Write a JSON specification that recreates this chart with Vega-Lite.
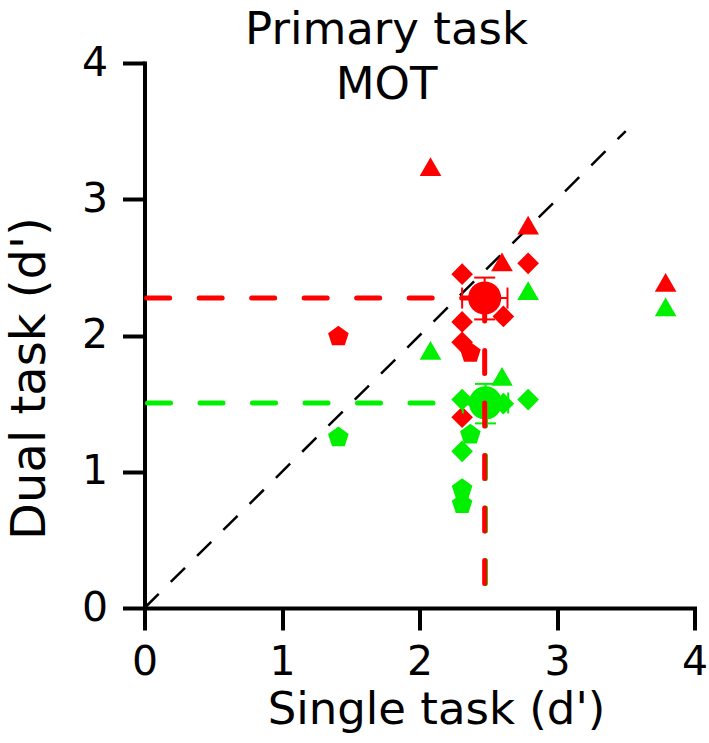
{
  "$schema": "https://vega.github.io/schema/vega-lite/v6.json",
  "width": 550,
  "height": 545,
  "autosize": "none",
  "padding": {"left": 144.5, "top": 63, "right": 14.5, "bottom": 135},
  "background": "white",
  "config": {"view": {"stroke": null}, "font": "DejaVu Sans"},
  "title": {
    "text": ["Primary task", "MOT"],
    "font": "DejaVu Sans",
    "fontSize": 45,
    "fontWeight": "normal",
    "color": "black",
    "anchor": "middle",
    "frame": "group",
    "lineHeight": 55,
    "baseline": "top",
    "offset": -66,
    "dx": -33
  },
  "datasets": {
    "points": [
      {"group": "A", "shape": "triangle", "x": 2.08, "y": 3.24},
      {"group": "A", "shape": "triangle", "x": 2.79, "y": 2.81},
      {"group": "A", "shape": "triangle", "x": 2.60, "y": 2.54},
      {"group": "A", "shape": "triangle", "x": 3.79, "y": 2.39},
      {"group": "A", "shape": "diamond", "x": 2.79, "y": 2.53},
      {"group": "A", "shape": "diamond", "x": 2.31, "y": 2.45},
      {"group": "A", "shape": "diamond", "x": 2.61, "y": 2.14},
      {"group": "A", "shape": "diamond", "x": 2.31, "y": 2.10},
      {"group": "A", "shape": "diamond", "x": 2.31, "y": 1.95},
      {"group": "A", "shape": "diamond", "x": 2.31, "y": 1.40},
      {"group": "A", "shape": "pentagon", "x": 1.41, "y": 2.00},
      {"group": "A", "shape": "pentagon", "x": 2.37, "y": 1.88},
      {"group": "B", "shape": "triangle", "x": 2.79, "y": 2.33},
      {"group": "B", "shape": "triangle", "x": 2.08, "y": 1.89},
      {"group": "B", "shape": "triangle", "x": 2.60, "y": 1.70},
      {"group": "B", "shape": "triangle", "x": 3.79, "y": 2.21},
      {"group": "B", "shape": "diamond", "x": 2.31, "y": 1.53},
      {"group": "B", "shape": "diamond", "x": 2.61, "y": 1.50},
      {"group": "B", "shape": "diamond", "x": 2.79, "y": 1.53},
      {"group": "B", "shape": "diamond", "x": 2.31, "y": 1.15},
      {"group": "B", "shape": "pentagon", "x": 1.41, "y": 1.26},
      {"group": "B", "shape": "pentagon", "x": 2.37, "y": 1.28},
      {"group": "B", "shape": "pentagon", "x": 2.31, "y": 0.88},
      {"group": "B", "shape": "pentagon", "x": 2.31, "y": 0.77}
    ],
    "means": [
      {"group": "B", "mx": 2.48, "my": 1.505, "xlo": 2.315, "xhi": 2.645, "ylo": 1.355, "yhi": 1.645},
      {"group": "A", "mx": 2.474, "my": 2.275, "xlo": 2.31, "xhi": 2.64, "ylo": 2.118, "yhi": 2.425}
    ],
    "meanlines": [
      {"line": "Bh", "group": "B", "o": 0, "x": 2.48, "y": 1.505},
      {"line": "Bh", "group": "B", "o": 1, "x": 0, "y": 1.505},
      {"line": "Bv", "group": "B", "o": 0, "x": 2.48, "y": 1.505},
      {"line": "Bv", "group": "B", "o": 1, "x": 2.48, "y": 0},
      {"line": "Ah", "group": "A", "o": 0, "x": 2.474, "y": 2.275},
      {"line": "Ah", "group": "A", "o": 1, "x": 0, "y": 2.275},
      {"line": "Av", "group": "A", "o": 0, "x": 2.474, "y": 2.275},
      {"line": "Av", "group": "A", "o": 1, "x": 2.474, "y": 0}
    ],
    "diagonal": [
      {"x": 0, "y": 0},
      {"x": 3.5, "y": 3.5}
    ]
  },
  "layer": [
    {
      "data": {"name": "diagonal"},
      "mark": {"type": "line", "color": "black", "strokeWidth": 2.5, "strokeDash": [20, 17]},
      "encoding": {
        "x": {
          "field": "x", "type": "quantitative",
          "scale": {"domain": [0, 4], "nice": false, "zero": true},
          "axis": {
            "values": [0, 1, 2, 3, 4], "format": "d", "grid": false,
            "domainColor": "black", "domainWidth": 4, "domainCap": "square",
            "tickColor": "black", "tickWidth": 4, "tickSize": 22,
            "labelFont": "DejaVu Sans", "labelFontSize": 41, "labelColor": "black", "labelPadding": 12,
            "labelFlush": false, "labelOverlap": false,
            "title": "Single task (d')", "titleFont": "DejaVu Sans", "titleFontSize": 45,
            "titleFontWeight": "normal", "titleColor": "black",
            "titleX": 291.5, "titleY": 115, "titleAlign": "center", "titleBaseline": "alphabetic"
          }
        },
        "y": {
          "field": "y", "type": "quantitative",
          "scale": {"domain": [0, 4], "nice": false, "zero": true},
          "axis": {
            "values": [0, 1, 2, 3, 4], "format": "d", "grid": false,
            "domainColor": "black", "domainWidth": 4, "domainCap": "square",
            "tickColor": "black", "tickWidth": 4, "tickSize": 22,
            "labelFont": "DejaVu Sans", "labelFontSize": 41, "labelColor": "black", "labelPadding": 15,
            "labelFlush": false, "labelOverlap": false,
            "title": "Dual task (d')", "titleFont": "DejaVu Sans", "titleFontSize": 48,
            "titleFontWeight": "normal", "titleColor": "black",
            "titleX": -100, "titleY": 315, "titleAngle": 270, "titleAlign": "center", "titleBaseline": "alphabetic"
          }
        }
      }
    },
    {
      "data": {"name": "points"},
      "mark": {"type": "point", "filled": true, "opacity": 1, "strokeWidth": 0, "size": 470},
      "encoding": {
        "x": {"field": "x", "type": "quantitative"},
        "y": {"field": "y", "type": "quantitative"},
        "color": {"field": "group", "type": "nominal", "legend": null,
          "scale": {"domain": ["A", "B"], "range": ["#ff0000", "#00f000"]}},
        "shape": {"field": "shape", "type": "nominal", "legend": null,
          "scale": {"domain": ["triangle", "diamond", "pentagon"],
            "range": ["triangle-up", "diamond", "M0,-0.905L0.951,-0.214L0.588,0.905L-0.588,0.905L-0.951,-0.214Z"]}}
      }
    },
    {
      "data": {"name": "means"},
      "mark": {"type": "rule", "strokeWidth": 2},
      "encoding": {
        "x": {"field": "xlo", "type": "quantitative"},
        "x2": {"field": "xhi"},
        "y": {"field": "my", "type": "quantitative"},
        "color": {"field": "group", "type": "nominal", "legend": null}
      }
    },
    {
      "data": {"name": "means"},
      "mark": {"type": "rule", "strokeWidth": 2},
      "encoding": {
        "x": {"field": "mx", "type": "quantitative"},
        "y": {"field": "ylo", "type": "quantitative"},
        "y2": {"field": "yhi"},
        "color": {"field": "group", "type": "nominal", "legend": null}
      }
    },
    {
      "data": {"name": "means"},
      "mark": {"type": "tick", "orient": "vertical", "size": 21, "thickness": 2, "opacity": 1},
      "encoding": {
        "x": {"field": "xlo", "type": "quantitative"},
        "y": {"field": "my", "type": "quantitative"},
        "color": {"field": "group", "type": "nominal", "legend": null}
      }
    },
    {
      "data": {"name": "means"},
      "mark": {"type": "tick", "orient": "vertical", "size": 21, "thickness": 2, "opacity": 1},
      "encoding": {
        "x": {"field": "xhi", "type": "quantitative"},
        "y": {"field": "my", "type": "quantitative"},
        "color": {"field": "group", "type": "nominal", "legend": null}
      }
    },
    {
      "data": {"name": "means"},
      "mark": {"type": "tick", "orient": "horizontal", "size": 21, "thickness": 2, "opacity": 1},
      "encoding": {
        "x": {"field": "mx", "type": "quantitative"},
        "y": {"field": "ylo", "type": "quantitative"},
        "color": {"field": "group", "type": "nominal", "legend": null}
      }
    },
    {
      "data": {"name": "means"},
      "mark": {"type": "tick", "orient": "horizontal", "size": 21, "thickness": 2, "opacity": 1},
      "encoding": {
        "x": {"field": "mx", "type": "quantitative"},
        "y": {"field": "yhi", "type": "quantitative"},
        "color": {"field": "group", "type": "nominal", "legend": null}
      }
    },
    {
      "data": {"name": "means"},
      "mark": {"type": "point", "shape": "circle", "filled": true, "opacity": 1, "strokeWidth": 0, "size": 1100},
      "encoding": {
        "x": {"field": "mx", "type": "quantitative"},
        "y": {"field": "my", "type": "quantitative"},
        "color": {"field": "group", "type": "nominal", "legend": null}
      }
    },
    {
      "data": {"name": "meanlines"},
      "transform": [{"filter": "datum.group === 'B'"}],
      "mark": {"type": "line", "strokeWidth": 5, "strokeDash": [23, 29.5], "strokeCap": "round"},
      "encoding": {
        "x": {"field": "x", "type": "quantitative"},
        "y": {"field": "y", "type": "quantitative"},
        "detail": {"field": "line", "type": "nominal"},
        "order": {"field": "o", "type": "quantitative"},
        "color": {"field": "group", "type": "nominal", "legend": null}
      }
    },
    {
      "data": {"name": "meanlines"},
      "transform": [{"filter": "datum.group === 'A'"}],
      "mark": {"type": "line", "strokeWidth": 5, "strokeDash": [23, 29.5], "strokeCap": "round"},
      "encoding": {
        "x": {"field": "x", "type": "quantitative"},
        "y": {"field": "y", "type": "quantitative"},
        "detail": {"field": "line", "type": "nominal"},
        "order": {"field": "o", "type": "quantitative"},
        "color": {"field": "group", "type": "nominal", "legend": null}
      }
    }
  ]
}
